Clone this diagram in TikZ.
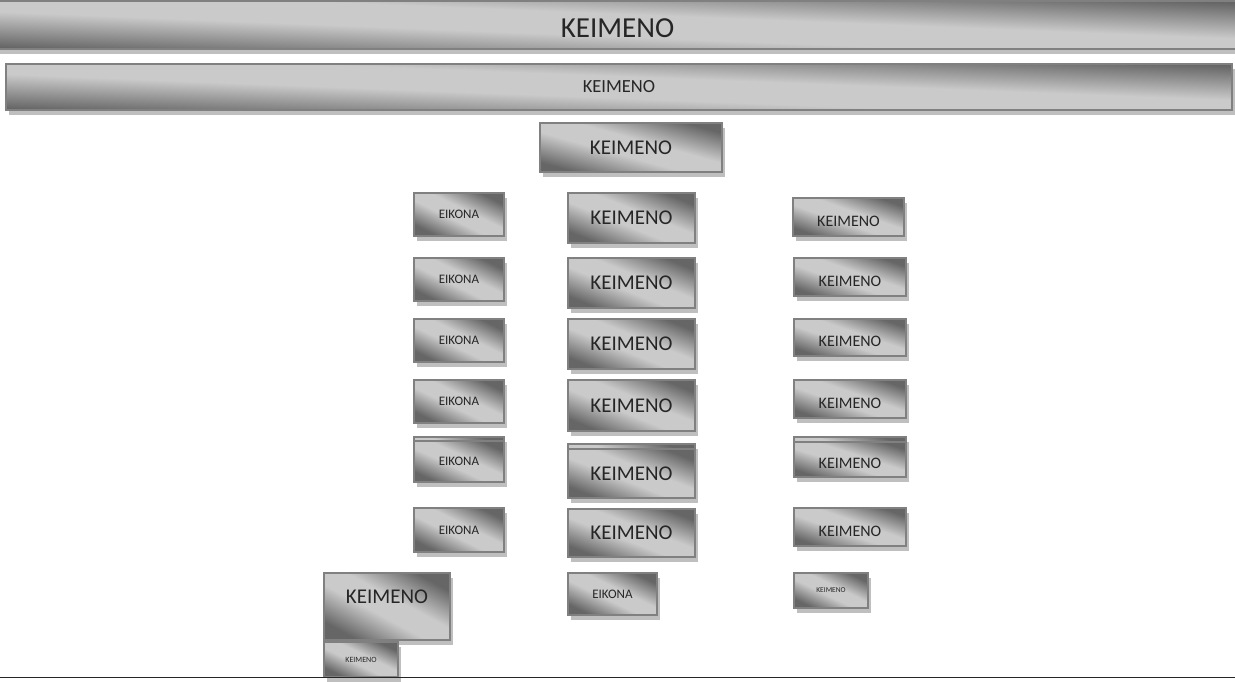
\documentclass[tikz,border=0pt]{standalone}
\usepackage{fontspec}
\setmainfont{Carlito}
\usetikzlibrary{shadows}
\definecolor{bord}{HTML}{808080}
\definecolor{shd}{HTML}{BFBFBF}
\definecolor{dk}{HTML}{666666}
\definecolor{lt}{HTML}{CACACA}
\definecolor{txt}{HTML}{262626}
\pgfdeclareverticalshading{boxsh}{100bp}{color(0bp)=(dk); color(25bp)=(dk); color(44bp)=(lt); color(56bp)=(lt); color(75bp)=(dk); color(100bp)=(dk)}
\tikzset{
  box/.style={draw=bord, line width=2.4pt, shading=boxsh,
    text=txt, inner sep=0pt,
    general shadow={fill=shd, shadow xshift=3pt, shadow yshift=-5pt}},
  rule/.style={draw=txt, line width=1.5pt}
}
% name, x1, y1, x2, y2, font size, options, text
\newcommand\bx[8]{\pgfmathsetmacro\bxang{-atan((#5-#3)/(#4-#2))}%
  \node[box,shading angle=\bxang,#7,font=\fontsize{#6}{#6}\selectfont,
  minimum width={#4-#2-2.4}, minimum height={#5-#3-2.4}]
  (#1) at ({(#2+#4)/2},{(#3+#5)/2}) {#8};}
\begin{document}
\begin{tikzpicture}[x=1pt,y=-1pt]
\useasboundingbox (0,0) rectangle (1235,682);
% top bars
\bx{top}{-5}{0}{1240}{50}{29}{text height=25.3pt,text depth=0pt}{KEIMENO}
\bx{bar}{5}{63}{1233}{111}{18.5}{}{KEIMENO}
\bx{head}{539}{122}{723}{173}{21}{}{KEIMENO}
% left column
\bx{l1}{413}{192}{505}{237}{13}{}{EIKONA}
\bx{l2}{413}{257}{505}{302}{13}{}{EIKONA}
\bx{l3}{413}{318}{505}{363}{13}{}{EIKONA}
\bx{l4}{413}{379}{505}{424}{13}{}{EIKONA}
\bx{l5b}{413}{436}{505}{479}{13}{}{}
\bx{l5}{413}{440}{505}{483}{13}{}{EIKONA}
\bx{l6}{413}{507}{505}{553}{13}{}{EIKONA}
% middle column
\bx{m1}{567}{192}{696}{244}{21}{}{KEIMENO}
\bx{m2}{567}{257}{696}{309}{21}{}{KEIMENO}
\bx{m3}{567}{318}{696}{370}{21}{}{KEIMENO}
\bx{m4}{567}{379}{696}{432}{21}{}{KEIMENO}
\bx{m5b}{567}{443}{696}{494}{21}{}{}
\bx{m5}{567}{448}{696}{499}{21}{}{KEIMENO}
\bx{m6}{567}{508}{696}{558}{21}{}{KEIMENO}
\bx{m7}{567}{572}{658}{616}{13}{}{EIKONA}
% right column
\bx{r1}{792}{197}{905}{237}{16}{text height=18.1pt,text depth=0pt}{KEIMENO}
\bx{r2}{793}{257}{907}{297}{16}{text height=18.1pt,text depth=0pt}{KEIMENO}
\bx{r3}{793}{318}{907}{357}{16}{text height=18.1pt,text depth=0pt}{KEIMENO}
\bx{r4}{793}{379}{907}{419}{16}{text height=18.1pt,text depth=0pt}{KEIMENO}
\bx{r5b}{793}{436}{907}{474}{16}{}{}
\bx{r5}{793}{441}{907}{478}{16}{text height=18.1pt,text depth=0pt}{KEIMENO}
\bx{r6}{793}{507}{907}{547}{16}{text height=18.1pt,text depth=0pt}{KEIMENO}
\bx{r7}{793}{572}{869}{609}{7.5}{}{KEIMENO}
% bottom left
\bx{bl}{323}{572}{451}{641}{21}{text height=13.3pt,text depth=20pt}{KEIMENO}
\bx{bls}{323}{641}{399}{678}{8}{}{KEIMENO}
% bottom rule
\coordinate (ra) at (0,677.5);
\coordinate (rb) at (1235,677.5);
\draw[rule] (ra) -- (rb);
\end{tikzpicture}
\end{document}
